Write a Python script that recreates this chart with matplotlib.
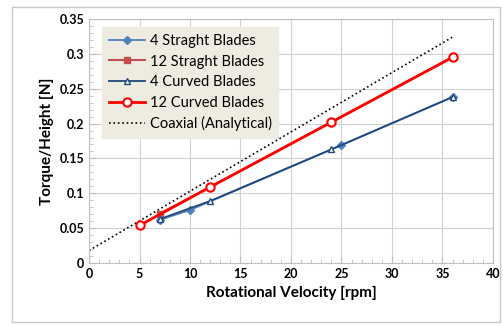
import matplotlib
matplotlib.use("Agg")
from matplotlib import pyplot as plt
from matplotlib.patches import Rectangle
from matplotlib.ticker import MultipleLocator

plt.rcParams['font.family'] = ['Lato', 'DejaVu Sans']

# data
x_4s = [7, 10, 25, 36]
y_4s = [0.062, 0.076, 0.169, 0.238]
x_12s = [7, 12, 24, 36]
y_12s = [0.071, 0.109, 0.202, 0.295]
x_4c = [7, 12, 24, 36]
y_4c = [0.063, 0.089, 0.163, 0.238]
x_12c = [5, 12, 24, 36]
y_12c = [0.054, 0.109, 0.202, 0.295]
x_coax = [0, 36]
y_coax = [0.018, 0.324]

fig = plt.figure(figsize=(5.03, 3.26), dpi=100)
fig.patches.append(Rectangle((0.024, 0.012), 0.97, 0.968, transform=fig.transFigure,
                             fill=False, edgecolor='#c8c8c8', lw=1))
ax = fig.add_axes([0.177, 0.193, 0.803, 0.749])

ax.plot(x_4s, y_4s, color='#4F81BD', marker='D', ms=4, lw=1.3, label='4 Straght Blades', zorder=3)
ax.plot(x_12s, y_12s, color='#C0504D', marker='s', ms=5, lw=1.5, label='12 Straght Blades', zorder=2)
ax.plot(x_4c, y_4c, color='#1F497D', marker='^', ms=4.5, mfc='white', lw=1.3, label='4 Curved Blades', zorder=3)
ax.plot(x_12c, y_12c, color='#FF0000', marker='o', ms=6, mfc='white', mew=1.5, lw=2,
        label='12 Curved Blades', zorder=4)
ax.plot(x_coax, y_coax, color='black', ls=':', lw=1.2, label='Coaxial (Analytical)', zorder=2)

ax.set_xlim(0, 40)
ax.set_ylim(0, 0.35)
ax.xaxis.set_major_locator(MultipleLocator(5))
ax.xaxis.set_minor_locator(MultipleLocator(1))
ax.yaxis.set_major_locator(MultipleLocator(0.05))
ax.yaxis.set_minor_locator(MultipleLocator(0.01))
ax.set_yticks([0, 0.05, 0.1, 0.15, 0.2, 0.25, 0.3, 0.35])
ax.set_yticklabels(['0', '0.05', '0.1', '0.15', '0.2', '0.25', '0.3', '0.35'])
ax.grid(True, which='major', color='#d0d0d0', lw=0.8)
ax.set_axisbelow(True)
for s in ax.spines.values():
    s.set_color('#bfbfbf')
ax.tick_params(which='both', colors='#bfbfbf', labelcolor='black', direction='in')
ax.tick_params(which='major', length=5, labelsize=9)
ax.tick_params(which='minor', length=3)
for lbl in ax.get_xticklabels() + ax.get_yticklabels():
    lbl.set_fontweight('bold')

ax.set_xlabel('Rotational Velocity [rpm]', fontsize=11, fontweight='bold')
ax.set_ylabel('Torque/Height [N]', fontsize=11, fontweight='bold')

leg = ax.legend(loc='upper left', bbox_to_anchor=(0.015, 0.995), fontsize=10.5,
                frameon=True, fancybox=False, facecolor='#EEECE1', edgecolor='#EEECE1',
                framealpha=1, handlelength=2.5, borderpad=0.45, labelspacing=0.45,
                handletextpad=0.3)

fig.savefig('out.png', dpi=100)
